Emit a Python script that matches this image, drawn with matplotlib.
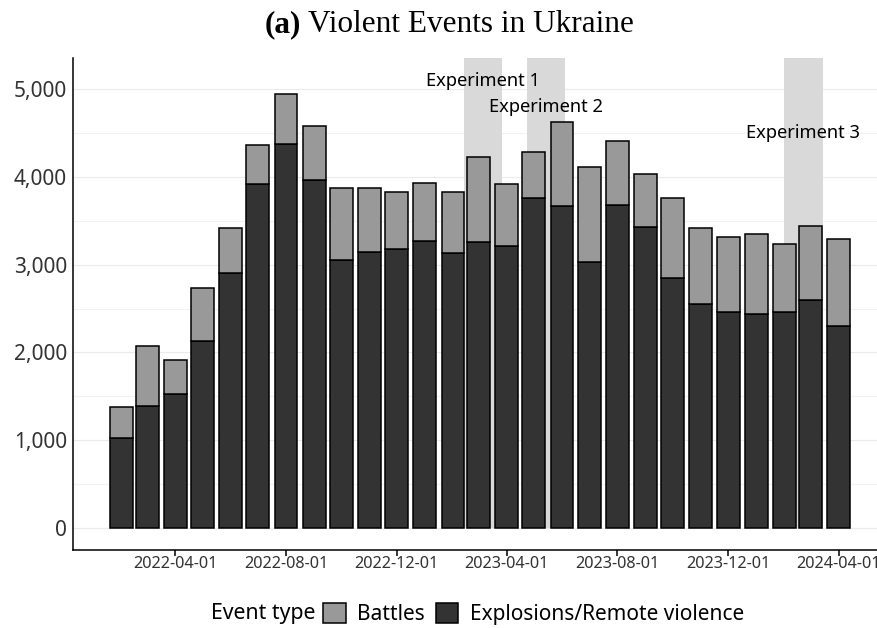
import numpy as np
import pandas as pd
import matplotlib
matplotlib.use("Agg")
import matplotlib.pyplot as plt
import matplotlib.dates as mdates
from matplotlib.patches import Patch

plt.rcParams['font.family'] = ['Noto Sans', 'DejaVu Sans']

# monthly counts of violent events
months = pd.date_range("2022-02-01", "2024-04-01", freq="MS")
explosions = [1019, 1391, 1521, 2135, 2901, 3915, 4379, 3961, 3052, 3143, 3174, 3269, 3128, 3254,
              3212, 3763, 3672, 3030, 3680, 3425, 2844, 2551, 2463, 2433, 2456, 2596, 2296]
battles = [357, 677, 391, 602, 513, 445, 574, 616, 821, 730, 654, 665, 696, 969,
           707, 525, 954, 1087, 733, 605, 912, 866, 855, 916, 775, 848, 999]

# experiment windows and their label heights
exp_names = ["Experiment 1", "Experiment 2", "Experiment 3"]
exp_start = pd.to_datetime(["2023-02-13", "2023-04-24", "2024-02-01"])
exp_end = pd.to_datetime(["2023-03-27", "2023-06-04", "2024-03-14"])
exp_label_y = [5100, 4800, 4500]

tick_dates = pd.date_range("2022-04-01", "2024-04-01", freq="4MS")

col_battles = "#999999"
col_expl = "#333333"

fig = plt.figure(figsize=(8.78, 6.28), dpi=100)
ax = fig.add_axes([0.0828, 0.1242, 0.9274, 0.783])

x = mdates.date2num(months)
ax.bar(x, explosions, width=25.2, color=col_expl, edgecolor="black", linewidth=1.1, zorder=3)
ax.bar(x, battles, width=25.2, bottom=explosions, color=col_battles, edgecolor="black",
       linewidth=1.1, zorder=3)

ylim = (-255, 5355)
for s, e, name, ly in zip(exp_start, exp_end, exp_names, exp_label_y):
    s_num, e_num = mdates.date2num(s), mdates.date2num(e)
    ax.fill_between([s_num, e_num], 0, ylim[1], color="#d9d9d9", lw=0, zorder=2)
    ax.text((s_num + e_num) / 2, ly, name, ha="center", va="center", fontsize=13.2,
            color="black", zorder=4)

ax.set_xlim(mdates.date2num(pd.Timestamp("2021-12-09")), mdates.date2num(pd.Timestamp("2024-05-24")))
ax.set_ylim(*ylim)

ax.set_yticks(np.arange(0, 5001, 1000))
ax.set_yticks(np.arange(500, 5000, 1000), minor=True)
ax.yaxis.set_major_formatter(matplotlib.ticker.FuncFormatter(lambda v, p: f"{int(v):,}"))
ax.grid(axis="y", which="major", color="#ebebeb", lw=0.8, zorder=0)
ax.grid(axis="y", which="minor", color="#f2f2f2", lw=0.8, zorder=0)
ax.grid(axis="x", visible=False)

ax.set_xticks(mdates.date2num(tick_dates))
ax.set_xticklabels([d.strftime("%Y-%m-%d") for d in tick_dates])
ax.tick_params(axis="x", which="major", length=4, width=1.1, direction="out", pad=0,
               labelsize=11.7, colors="black", labelcolor="#333333")
ax.tick_params(axis="y", which="both", length=0, pad=4, labelsize=15, labelcolor="#333333")

for side in ["top", "right"]:
    ax.spines[side].set_visible(False)
for side in ["left", "bottom"]:
    ax.spines[side].set_linewidth(1.1)
    ax.spines[side].set_color("black")

# panel title: bold tag followed by regular text
title_y = 1 - 32 / 628
t1 = fig.text(265 / 878, title_y, "(a)", fontsize=22.5, ha="left", va="baseline",
              family="Liberation Serif", fontweight="bold")
fig.canvas.draw()
bb = t1.get_window_extent()
fig.text((bb.x1 + 7) / fig.bbox.width, title_y, "Violent Events in Ukraine", fontsize=22.5,
         ha="left", va="baseline", family="Liberation Serif")

# legend along the bottom
fig.text(211 / 878, 1 - 614 / 628, "Event type", fontsize=15.3, ha="left", va="center")
handles = [Patch(facecolor=col_battles, edgecolor="black", lw=1.1),
           Patch(facecolor=col_expl, edgecolor="black", lw=1.1)]
fig.legend(handles, ["Battles", "Explosions/Remote violence"], loc="center left",
           bbox_to_anchor=(323 / 878, 1 - 614 / 628), ncol=2, frameon=False, fontsize=15,
           handlelength=1.1, handleheight=1.1, handletextpad=0.55, columnspacing=0.5,
           borderpad=0, borderaxespad=0)

fig.savefig("out.png", dpi=100)
